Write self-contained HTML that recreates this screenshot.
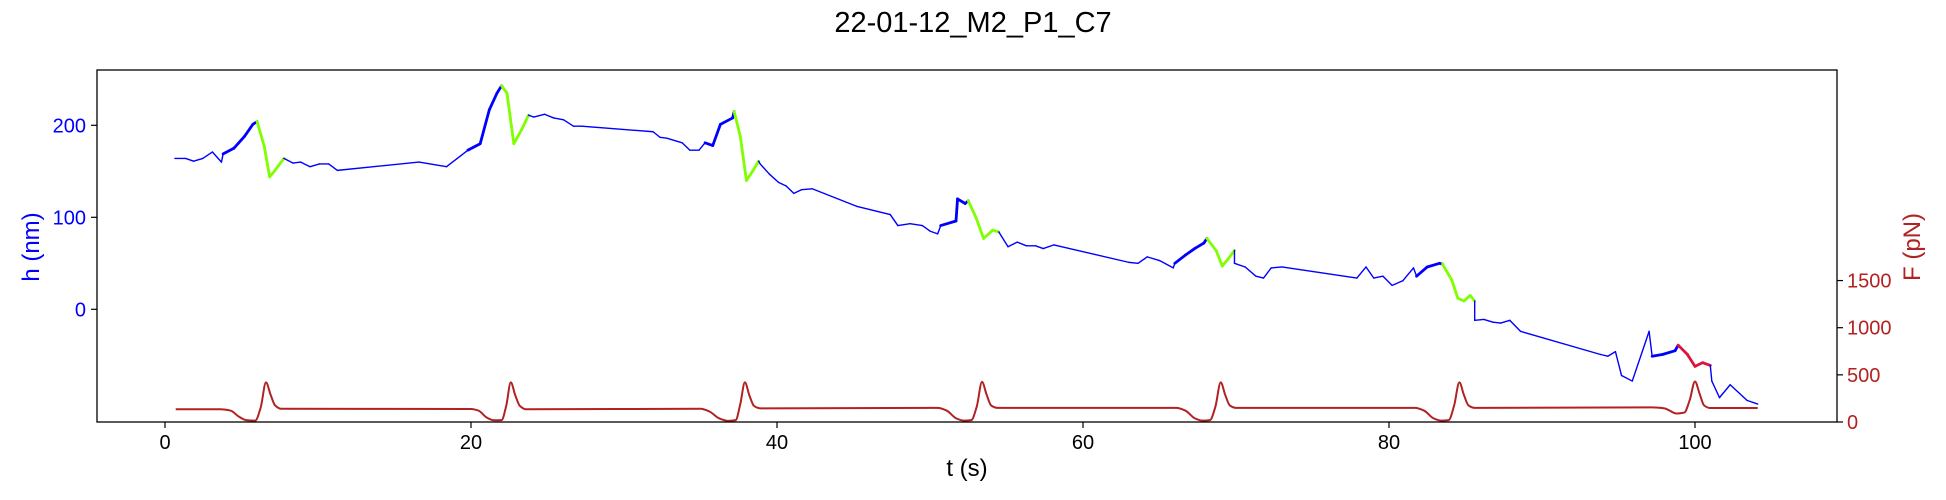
<!DOCTYPE html>
<html><head><meta charset="utf-8"><style>
html,body{margin:0;padding:0;background:#fff;}
svg{display:block;font-family:"Liberation Sans","DejaVu Sans",sans-serif;}
</style></head><body>
<svg id="chart" width="1946" height="500" viewBox="0 0 1946 500">
<text x="973" y="32" text-anchor="middle" font-size="29">22-01-12_M2_P1_C7</text>
<g id="plot"></g>
</svg>
<script>
// ---- data ----
const hTimes = [0.65,1.35,1.87,2.47,3.1,3.69,3.8,4.5,5.2,5.74,6.02,6.49,6.84,7.19,7.77,8.36,8.87,9.48,10.1,10.7,11.27,16.6,18.4,19.1,19.8,20.6,21.2,21.7,22.0,22.35,22.8,23.3,23.76,24.1,24.8,25.4,26.05,26.7,27.25,31.9,32.35,32.8,33.8,34.3,34.9,35.3,35.8,36.3,37.1,37.2,37.6,38.0,38.4,38.8,38.9,39.5,40.1,40.6,41.1,41.6,42.3,45.2,47.4,47.9,48.7,49.5,50.0,50.5,50.7,51.7,51.8,52.3,52.5,53.0,53.5,54.1,54.5,55.1,55.7,56.3,56.9,57.4,58.1,63.0,63.6,64.2,65.0,65.9,66.0,66.7,67.3,67.9,68.1,68.7,69.1,69.5,69.9,69.9,70.6,71.3,71.8,72.3,73.0,77.9,78.5,79.0,79.6,80.2,80.9,81.6,81.8,82.5,83.3,83.5,84.1,84.5,84.9,85.3,85.6,85.6,86.2,86.8,87.3,87.9,88.6,93.8,94.3,94.8,95.2,95.9,97.0,97.2,97.9,98.7,98.9,99.5,100.0,100.5,101.0,101.1,101.6,102.3,103.4,104.1];
const hValues = [164,164,161,164,171,160,169,175,188,201,204,177,144,151,164,159,160,155,158,158,151,160,155,164,173,180,217,235,243,235,180,195,211,209,212,208,206,199,199,193,187,186,181,173,173,181,178,201,208,215,188,140,150,161,158,147,138,134,126,130,131,112,103,91,93,91,85,82,91,96,120,115,118,100,77,86,84,68,73,69,69,66,70,51,50,57,53,45,50,59,66,72,77,64,47,55,64,50,46,36,34,45,46,34,46,34,36,26,31,45,36,46,50,49,32,12,9,15,9,-12,-11,-14,-15,-12,-24,-49,-51,-46,-72,-78,-24,-51,-49,-45,-39,-49,-62,-58,-61,-78,-96,-82,-99,-103];
// segment kind per point: 0 smooth blue, 1 noisy blue, 2 green, 3 crimson
const hKinds = [0,0,0,0,0,0,1,1,1,1,2,2,2,2,2,0,0,0,0,0,0,0,0,0,1,1,1,1,2,2,2,2,2,0,0,0,0,0,0,0,0,0,0,0,0,1,1,1,1,2,2,2,2,2,0,0,0,0,0,0,0,0,0,0,0,0,0,0,1,1,1,1,2,2,2,2,2,0,0,0,0,0,0,0,0,0,0,0,1,1,1,1,2,2,2,2,2,0,0,0,0,0,0,0,0,0,0,0,0,0,1,1,1,2,2,2,2,2,2,0,0,0,0,0,0,0,0,0,0,0,0,1,1,1,3,3,3,3,3,0,0,0,0,0];
const fTimes = [0.7,3.6,4.3,4.8,5.3,5.9,6.25,6.6,6.9,7.2,7.6,20.0,20.5,21.0,21.5,22.0,22.3,22.6,22.9,23.2,23.6,35.0,35.6,36.2,36.8,37.3,37.6,37.9,38.2,38.5,38.9,50.5,51.1,51.7,52.2,52.7,53.05,53.4,53.7,54.0,54.4,66.1,66.7,67.3,67.8,68.3,68.65,69.0,69.3,69.6,70.0,81.7,82.3,82.9,83.4,83.9,84.25,84.6,84.9,85.2,85.6,97.2,98.0,98.8,99.3,99.65,100.0,100.3,100.6,101.0,104.1];
const fValues = [135,135,120,60,20,15,150,420,290,175,140,138,120,50,18,20,170,420,280,170,135,140,110,40,12,20,190,420,280,170,145,150,120,40,15,20,160,425,290,175,150,150,120,40,15,20,160,420,285,175,150,150,120,40,15,20,170,420,285,175,150,155,145,90,100,230,430,300,175,148,148];
const xTicks = [0,20,40,60,80,100];
const hTicks = [0,100,200];
const fTicks = [0,500,1000,1500];
// ---- axes ----
const L=97,R=1837,T=70,B=422;
const X=t=>165+15.3*t;
const YH=h=>309.3-0.92*h;
const YF=f=>422-0.0943*f;
const NS='http://www.w3.org/2000/svg';
const plot=document.getElementById('plot');
function mk(tag,attrs,parent){const e=document.createElementNS(NS,tag);for(const k in attrs)e.setAttribute(k,attrs[k]);(parent||plot).appendChild(e);return e;}

// force curve (monotone cubic interpolation)
(function(){
  const xs=fTimes.map(X), ys=fValues.map(YF), n=xs.length;
  const dl=[],m=[];
  for(let i=0;i<n-1;i++) dl.push((ys[i+1]-ys[i])/(xs[i+1]-xs[i]));
  m[0]=dl[0]; m[n-1]=dl[n-2];
  for(let i=1;i<n-1;i++){
    if(dl[i-1]*dl[i]<=0) m[i]=0;
    else { const w1=2*(xs[i+1]-xs[i])+(xs[i]-xs[i-1]), w2=(xs[i+1]-xs[i])+2*(xs[i]-xs[i-1]);
      m[i]=(w1+w2)/(w1/dl[i-1]+w2/dl[i]); }
  }
  let d='M'+xs[0]+','+ys[0];
  for(let i=0;i<n-1;i++){
    const h=xs[i+1]-xs[i];
    d+=' C'+(xs[i]+h/3)+','+(ys[i]+m[i]*h/3)+' '+(xs[i+1]-h/3)+','+(ys[i+1]-m[i+1]*h/3)+' '+xs[i+1]+','+ys[i+1];
  }
  const e=mk('path',{d:d,fill:'none',stroke:'#b22222','stroke-width':2});
  
  
})();

// height trace segments
(function(){
  const colors=['#0000ff','#0000ff','#7fff00','#dc143c'];
  const widths=[1.4,2.8,2.8,2.8];
  const names=['height-line','height-noisy-segment','height-green-segment','height-crimson-segment'];
  for(let i=0;i<hTimes.length-1;i++){
    const k=hKinds[i+1]===hKinds[i]?hKinds[i]:Math.min(hKinds[i],hKinds[i+1]);
    const e=mk('line',{x1:X(hTimes[i]),y1:YH(hValues[i]),x2:X(hTimes[i+1]),y2:YH(hValues[i+1]),stroke:colors[k],'stroke-width':widths[k],'stroke-linecap':'round'});
    
    
  }
})();

// frame
const fr=mk('rect',{x:L,y:T,width:R-L,height:B-T,fill:'none',stroke:'#000','stroke-width':1.3});



xTicks.forEach(v=>{
  const tk=mk('line',{x1:X(v),y1:B,x2:X(v),y2:B+6,stroke:'#000','stroke-width':1.2});
  
  
  const tl=mk('text',{x:X(v),y:B+27,'text-anchor':'middle','font-size':20,fill:'#000'});
  tl.textContent=v;
  
  
});
hTicks.forEach(v=>{
  const tk=mk('line',{x1:L-6,y1:YH(v),x2:L,y2:YH(v),stroke:'#000','stroke-width':1.2});
  
  
  const tl=mk('text',{x:L-11,y:YH(v)+7,'text-anchor':'end','font-size':20,fill:'#0000ff'});
  tl.textContent=v;
  
  
});
fTicks.forEach(v=>{
  const tk=mk('line',{x1:R,y1:YF(v),x2:R+6,y2:YF(v),stroke:'#000','stroke-width':1.2});
  
  
  const tl=mk('text',{x:R+10,y:YF(v)+7,'text-anchor':'start','font-size':20,fill:'#b22222'});
  tl.textContent=v;
  
  
});
const xl=mk('text',{x:(L+R)/2,y:476,'text-anchor':'middle','font-size':24,fill:'#000'});
xl.textContent='t (s)';


const hl=mk('text',{x:39,y:247,'text-anchor':'middle','font-size':24,fill:'#0000ff',transform:'rotate(-90 39 247)'});
hl.textContent='h (nm)';


const fl=mk('text',{x:1920,y:247,'text-anchor':'middle','font-size':24,fill:'#b22222',transform:'rotate(-90 1920 247)'});
fl.textContent='F (pN)';


</script>
</body></html>
